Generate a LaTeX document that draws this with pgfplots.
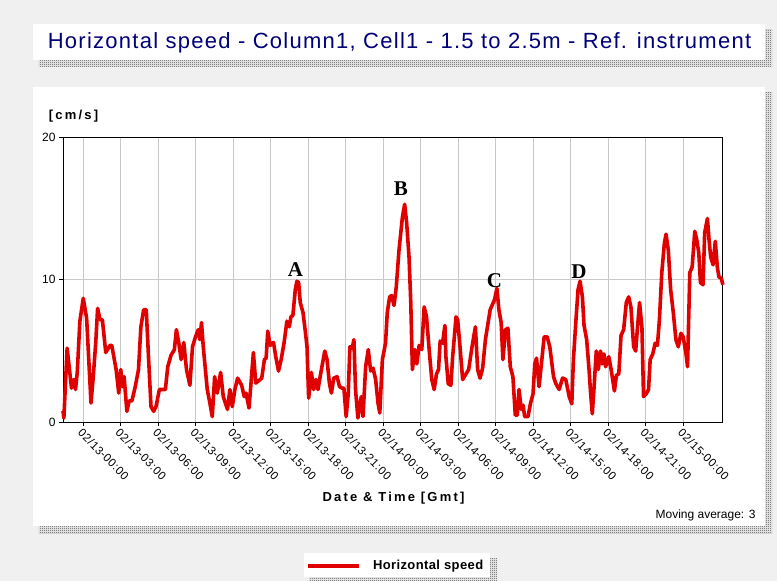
\documentclass[border=0pt]{standalone}
\usepackage{pgfplots}
\pgfplotsset{compat=1.18}
\usepackage{fontspec}
\setmainfont{Liberation Sans}
\newfontfamily\titlefont[LetterSpace=5.8]{Liberation Sans}
\newfontfamily\labelfont[LetterSpace=17]{Liberation Sans}
\newfontfamily\legfont[LetterSpace=3]{Liberation Sans}
\newfontfamily\tickfont[LetterSpace=4]{Liberation Sans}
\newfontfamily\annfont{Liberation Serif}
\usetikzlibrary{patterns.meta,backgrounds}

\definecolor{bg}{RGB}{240,240,240}
\definecolor{navy}{RGB}{0,0,120}
\definecolor{linered}{RGB}{225,0,0}
\definecolor{gridgray}{RGB}{200,200,200}

\tikzdeclarepattern{name=checker, type=uncolored, bottom left={(0pt,0pt)}, top right={(2pt,2pt)}, tile size={(2pt,2pt)},
  code={\fill (0pt,0pt) rectangle (1pt,1pt); \fill (1pt,1pt) rectangle (2pt,2pt);}}

\begin{document}
\begin{tikzpicture}
\begin{axis}[
  scale only axis,
  width=659.3pt, height=285pt,
  xmin=-1.62, xmax=51.12, ymin=0, ymax=20,
  xtick={0,3,...,48},
  xticklabels={02/13-00:00,02/13-03:00,02/13-06:00,02/13-09:00,02/13-12:00,02/13-15:00,02/13-18:00,02/13-21:00,02/14-00:00,02/14-03:00,02/14-06:00,02/14-09:00,02/14-12:00,02/14-15:00,02/14-18:00,02/14-21:00,02/15-00:00},
  ytick={0,10,20},
  xmajorgrids, ymajorgrids, grid style={gridgray, line width=0.8pt},
  axis line style={black, line width=1pt},
  tick align=outside, xtick pos=lower, ytick pos=left,
  major tick length=4pt, tick style={black, line width=0.8pt},
  x tick label style={font=\tickfont\fontsize{11.5}{13}\selectfont, rotate=-45, anchor=north west, inner sep=1pt},
  y tick label style={font=\fontsize{12}{14}\selectfont},
  /pgf/number format/assume math mode=true,
  clip=false,
  legend style={at={(axis description cs:0.3686,-0.5035)}, anchor=west, draw=none, fill=none,
    inner sep=0pt, outer sep=0pt, font=\legfont\bfseries\fontsize{13}{15}\selectfont,
    /tikz/every odd column/.append style={column sep=12pt}, nodes={inner sep=0pt}},
  legend image code/.code={\draw[#1, line width=4pt] (0pt,0pt) -- (51pt,0pt);},
]
\addplot[linered, line width=3.6pt, line join=round] coordinates {
(-1.62,0.8) (-1.55,0.3) (-1.29,5.2) (-0.94,2.4) (-0.75,3.0) (-0.62,2.3) (-0.48,3.5) (-0.27,7.1) (0,8.7) (0.27,7.3)
(0.62,1.35) (0.8,3.2) (1.0,5.6) (1.15,8.0) (1.34,7.2) (1.53,7.2) (1.8,4.9) (2.14,5.4) (2.28,5.4) (2.63,3.7)
(2.84,2.05) (3.0,3.7) (3.14,2.5) (3.27,3.2) (3.49,0.77) (3.67,1.5) (3.89,1.5) (4.16,2.5) (4.42,3.7) (4.61,6.7)
(4.83,7.9) (5.04,7.9) (5.23,4.4) (5.42,1.1) (5.63,0.77) (5.82,1.1) (6.09,2.3) (6.3,2.3) (6.57,2.3) (6.76,3.9)
(7.02,4.7) (7.29,5.1) (7.45,6.5) (7.64,5.6) (7.83,4.4) (8.04,5.6) (8.26,3.7) (8.53,2.6) (8.74,5.3) (8.98,6.0)
(9.2,6.5) (9.33,5.8) (9.46,7.0) (9.6,5.3) (9.92,2.3) (10.13,1.35) (10.32,0.4) (10.51,3.2) (10.72,2.05) (10.99,3.5)
(11.2,1.8) (11.54,0.9) (11.73,2.3) (11.92,1.1) (12.13,2.3) (12.35,3.1) (12.67,2.6) (12.88,1.8) (13.02,2.05) (13.26,1.0)
(13.42,2.75) (13.61,4.9) (13.8,2.75) (14.01,2.9) (14.28,3.1) (14.49,4.4) (14.63,4.5) (14.76,6.4) (14.95,5.4) (15.22,5.6)
(15.4,4.6) (15.62,3.6) (15.83,4.4) (16.07,5.6) (16.29,7.1) (16.48,6.7) (16.61,7.4) (16.77,7.5) (16.96,9.3) (17.09,9.9)
(17.23,9.8) (17.36,8.4) (17.58,7.7) (17.76,6.4) (17.9,5.3) (18.03,1.7) (18.25,3.5) (18.43,2.3) (18.62,3.0) (18.78,2.3)
(18.97,3.3) (19.32,5.0) (19.5,4.4) (19.69,2.75) (19.85,2.05) (20.04,3.1) (20.31,3.2) (20.5,2.5) (20.7,2.4) (20.85,2.4)
(21.03,0.4) (21.2,2.05) (21.33,5.3) (21.52,5.2) (21.65,5.8) (21.78,2.3) (21.97,0.3) (22.1,1.1) (22.24,1.8) (22.38,0.4)
(22.59,3.9) (22.8,5.1) (22.99,3.6) (23.18,3.8) (23.39,3.0) (23.58,1.35) (23.72,0.65) (23.93,4.4) (24.18,5.55) (24.32,7.7)
(24.51,8.8) (24.67,8.9) (24.86,8.2) (25.04,9.5) (25.26,12.1) (25.53,14.4) (25.71,15.3) (25.87,14.0) (26.06,11.6) (26.2,8.4)
(26.33,3.7) (26.52,5.1) (26.68,4.1) (26.87,5.4) (27.08,5.1) (27.27,8.1) (27.46,7.4) (27.67,5.1) (27.88,3.0) (28.07,2.3)
(28.26,3.4) (28.42,3.7) (28.55,5.7) (28.74,5.55) (28.93,6.8) (29.01,4.6) (29.2,2.7) (29.41,2.6) (29.55,4.6) (29.82,7.4)
(29.95,7.2) (30.14,5.3) (30.35,3.0) (30.62,3.4) (30.83,3.7) (31.1,5.3) (31.37,6.7) (31.55,3.7) (31.74,3.1) (31.95,3.8)
(32.17,5.8) (32.55,7.9) (32.9,8.6) (33.09,9.4) (33.25,7.9) (33.43,7.0) (33.57,4.4) (33.78,6.5) (33.97,6.6) (34.16,3.9)
(34.37,3.2) (34.56,0.5) (34.72,0.5) (34.86,2.3) (35.04,0.9) (35.18,1.2) (35.31,0.4) (35.58,0.4) (35.77,1.3) (35.98,2.0)
(36.12,4.1) (36.26,4.5) (36.46,2.5) (36.65,4.1) (36.87,6.0) (37.11,6.0) (37.32,5.3) (37.62,3.2) (37.81,2.7) (38.07,2.3)
(38.34,3.1) (38.6,3.0) (38.87,1.8) (39.08,1.3) (39.21,4.4) (39.4,7.0) (39.58,9.3) (39.74,9.9) (39.93,8.8) (40.06,6.8)
(40.27,5.8) (40.46,3.7) (40.59,2.0) (40.72,0.6) (40.85,2.3) (41.04,5.0) (41.2,3.7) (41.38,5.0) (41.51,4.1) (41.65,4.8)
(41.78,3.9) (42.04,4.6) (42.23,3.7) (42.49,2.2) (42.65,3.3) (42.84,3.4) (43.02,6.1) (43.23,6.5) (43.44,8.4) (43.63,8.8)
(43.81,8.1) (44.03,5.3) (44.19,5.0) (44.34,6.7) (44.5,8.4) (44.69,6.7) (44.82,1.8) (45.03,2.0) (45.22,2.3) (45.35,4.4)
(45.56,4.8) (45.75,5.55) (45.93,5.4) (46.09,7.2) (46.28,10.5) (46.49,12.6) (46.62,13.2) (46.8,12.1) (46.99,9.3) (47.2,7.7)
(47.41,5.8) (47.6,5.3) (47.81,6.25) (47.99,6.0) (48.21,4.85) (48.34,3.9) (48.52,10.5) (48.71,10.9) (48.92,13.4) (49.08,12.8)
(49.24,11.9) (49.37,9.8) (49.58,9.65) (49.71,13.3) (49.93,14.3) (50.06,12.8) (50.19,11.6) (50.38,11.05) (50.56,12.7) (50.72,10.9)
(50.85,10.2) (51.04,10.1) (51.17,9.65)
};
\addlegendentry{Horizontal speed}
\node[font=\annfont\bfseries\fontsize{21}{24}\selectfont] at (axis cs:16.98,10.72) {A};
\node[font=\annfont\bfseries\fontsize{21}{24}\selectfont] at (axis cs:25.4,16.4) {B};
\node[font=\annfont\bfseries\fontsize{21}{24}\selectfont] at (axis cs:32.9,9.95) {C};
\node[font=\annfont\bfseries\fontsize{21}{24}\selectfont] at (axis cs:39.66,10.55) {D};
\coordinate (LL) at (rel axis cs:0,0);
\end{axis}
\begin{scope}[shift={(LL)}, xshift=-63pt, yshift=-158.7pt, x=1pt, y=1pt]
\begin{scope}[on background layer]
\fill[bg] (0,0) rectangle (777,581);
% title box
\fill[white] (39,514) rectangle (772,551);
\fill[pattern=checker, pattern color=black] (39,514) rectangle (772,551);
\fill[white] (33,521) rectangle (765,557);
% main panel
\fill[white] (39,48) rectangle (772,488);
\fill[pattern=checker, pattern color=black] (39,48) rectangle (772,488);
\fill[white] (33,55) rectangle (765,494);
% legend box
\fill[white] (309,0) rectangle (497,23);
\fill[pattern=checker, pattern color=black] (309,0) rectangle (497,23);
\fill[white] (303.5,4) rectangle (490,28);
\end{scope}
\node[navy, font=\titlefont\fontsize{22}{26}\selectfont] at (399.5,538) {Horizontal speed - Column1, Cell1 - 1.5 to 2.5m - Ref. instrument};
\node[font=\labelfont\bfseries\fontsize{13}{15}\selectfont] at (73.5,465.3) {[cm/s]};
\node[font=\labelfont\bfseries\fontsize{13}{15}\selectfont] at (393.5,83) {Date \& Time [Gmt]};
\node[anchor=east, font=\fontsize{12}{14}\selectfont] at (759,66) {Moving average: 3};
\end{scope}
\end{tikzpicture}
\end{document}
